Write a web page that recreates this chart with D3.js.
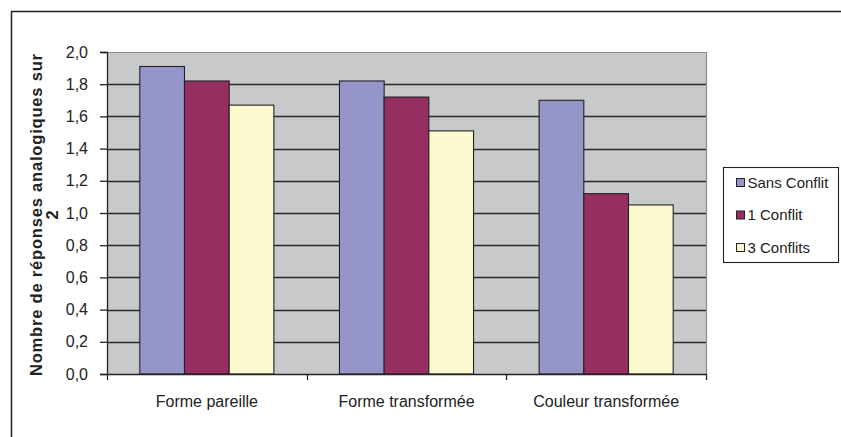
<!DOCTYPE html>
<html>
<head>
<meta charset="utf-8">
<script src="https://cdn.jsdelivr.net/npm/d3@7"></script>
<style>
    body { margin: 0; background: #fff; }
    svg { font-family: "Liberation Sans", Arial, sans-serif; display: block; }
</style>
</head>
<body>
<div id="chart"></div>
<script>
const categories = ['Forme pareille', 'Forme transformée', 'Couleur transformée'];
const seriesNames = ['Sans Conflit', '1 Conflit', '3 Conflits'];
const sansConflit = [1.91, 1.82, 1.70];
const unConflit = [1.82, 1.72, 1.12];
const troisConflits = [1.67, 1.51, 1.05];
const yTicks = [0, 0.2, 0.4, 0.6, 0.8, 1.0, 1.2, 1.4, 1.6, 1.8, 2.0];
const colors = ['#9595c9', '#962e62', '#fcf9ce'];

const seriesValues = [sansConflit, unConflit, troisConflits];

const W = 841, H = 437;
const plot = { left: 107, top: 52, right: 706, bottom: 374 };

const svg = d3.select('#chart')
    .append('svg')
        .attr('width', W)
        .attr('height', H);

// outer frame (only top and left edges visible)
svg.append('path')
    .attr('d', 'M11.5,' + H + 'V11.5H' + W)
    .attr('fill', 'none')
    .attr('stroke', '#222')
    .attr('stroke-width', 1.5);

const x0 = d3.scaleBand()
    .domain(categories)
    .range([plot.left, plot.right])
    .paddingInner(0)
    .paddingOuter(0);

const x1 = d3.scaleBand()
    .domain(seriesNames)
    .range([0, x0.bandwidth()])
    .paddingInner(0)
    .paddingOuter(0.734);

const y = d3.scaleLinear()
    .domain([0, 2])
    .range([plot.bottom, plot.top]);

// plot background
svg.append('rect')
    .attr('x', plot.left)
    .attr('y', plot.top)
    .attr('width', plot.right - plot.left)
    .attr('height', plot.bottom - plot.top)
    .attr('fill', '#c8c9cb');

// grid lines
svg.append('g')
    .selectAll('line')
    .data(yTicks.filter(d => d > 0 && d < 2))
    .join('line')
        .attr('x1', plot.left)
        .attr('x2', plot.right)
        .attr('y1', d => Math.round(y(d)) + 0.5)
        .attr('y2', d => Math.round(y(d)) + 0.5)
        .attr('stroke', '#2a2a2a')
        .attr('stroke-width', 1.3);

// top/right border of plot area
svg.append('path')
    .attr('d', 'M' + plot.left + ',' + (plot.top + 0.5) + 'H' + (plot.right + 0.5) + 'V' + plot.bottom)
    .attr('fill', 'none')
    .attr('stroke', '#8e8e8e')
    .attr('stroke-width', 1.2);

// bars
const groups = svg.append('g')
    .selectAll('g')
    .data(categories)
    .join('g')
        .attr('transform', d => 'translate(' + x0(d) + ',0)');

groups.selectAll('rect')
    .data((d, i) => seriesNames.map((s, j) => ({ s: s, v: seriesValues[j][i], j: j })))
    .join('rect')
        .attr('x', d => x1(d.s))
        .attr('y', d => y(d.v))
        .attr('width', x1.bandwidth())
        .attr('height', d => y(0) - y(d.v))
        .attr('fill', d => colors[d.j])
        .attr('stroke', '#222')
        .attr('stroke-width', 1.1);

// y axis
const yAxis = d3.axisLeft(y)
    .tickValues(yTicks)
    .tickSize(7)
    .tickPadding(12)
    .tickFormat(d => d3.format('.1f')(d).replace('.', ','));

svg.append('g')
    .attr('class', 'y axis')
    .attr('transform', 'translate(' + plot.left + ',0)')
    .call(yAxis)
    .call(g => g.select('.domain').attr('stroke', '#222').attr('stroke-width', 1.3))
    .call(g => g.selectAll('.tick line').attr('stroke', '#222').attr('stroke-width', 1.3))
    .call(g => g.selectAll('.tick text')
        .attr('font-size', 16)
        .attr('fill', '#222')
        .style('font-family', '"Liberation Sans", Arial, sans-serif'));

// x axis
const xAxis = d3.axisBottom(x0)
    .tickSize(0)
    .tickPadding(22);

svg.append('g')
    .attr('class', 'x axis')
    .attr('transform', 'translate(0,' + plot.bottom + ')')
    .call(xAxis)
    .call(g => g.select('.domain').attr('stroke', '#222').attr('stroke-width', 1.3))
    .call(g => g.selectAll('.tick text')
        .attr('font-size', 16)
        .attr('fill', '#222')
        .style('font-family', '"Liberation Sans", Arial, sans-serif'));

// category separator ticks
svg.append('g')
    .selectAll('line')
    .data([0, 1, 2, 3])
    .join('line')
        .attr('x1', i => Math.round(plot.left + i * x0.step()) + 0.5)
        .attr('x2', i => Math.round(plot.left + i * x0.step()) + 0.5)
        .attr('y1', plot.bottom)
        .attr('y2', plot.bottom + 6)
        .attr('stroke', '#222')
        .attr('stroke-width', 1.3);

// y axis title, two lines
const ty = svg.append('text')
    .attr('transform', 'translate(42,' + ((plot.top + plot.bottom) / 2 + 2) + ') rotate(-90)')
    .attr('text-anchor', 'middle')
    .attr('font-size', 16.5)
    .attr('font-weight', 'bold')
    .attr('fill', '#222');
ty.append('tspan').attr('x', 0).attr('dy', 0)
    .attr('textLength', 322).attr('lengthAdjust', 'spacing')
    .text('Nombre de réponses analogiques sur');
ty.append('tspan').attr('x', 0).attr('dy', 16).text('2');

// legend
const lg = svg.append('g').attr('transform', 'translate(723.5,167.5)');
lg.append('rect')
    .attr('width', 115)
    .attr('height', 95)
    .attr('fill', '#fff')
    .attr('stroke', '#222')
    .attr('stroke-width', 1.1);

const items = lg.selectAll('g.item')
    .data(seriesNames)
    .join('g')
        .attr('class', 'item')
        .attr('transform', (d, i) => 'translate(13,' + (15 + i * 32.5) + ')');

items.append('rect')
    .attr('x', 0)
    .attr('y', -4)
    .attr('width', 8)
    .attr('height', 8)
    .attr('fill', (d, i) => colors[i])
    .attr('stroke', '#222')
    .attr('stroke-width', 1);

items.append('text')
    .attr('x', 11)
    .attr('y', 0)
    .attr('dy', '0.35em')
    .attr('font-size', 15)
    .attr('fill', '#222')
    .text(d => d);
</script>
</body>
</html>
